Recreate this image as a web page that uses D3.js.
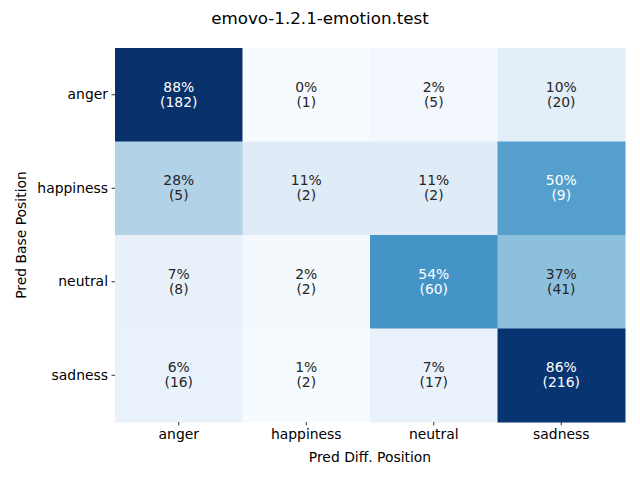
<!DOCTYPE html>
<html><head><meta charset="utf-8">
<script src="https://cdn.jsdelivr.net/npm/d3@7"></script>
<style>body{margin:0;background:#fff}svg{display:block;font-family:"DejaVu Sans",sans-serif}</style>
</head><body>
<svg id="c" width="640" height="480"></svg>
<script>
const title = "emovo-1.2.1-emotion.test";
const rowLabels = ["anger", "happiness", "neutral", "sadness"];
const colLabels = ["anger", "happiness", "neutral", "sadness"];
const counts = [
  [182, 1, 5, 20],
  [5, 2, 2, 9],
  [8, 2, 60, 41],
  [16, 2, 17, 216]
];
const xLabel = "Pred Diff. Position";
const yLabel = "Pred Base Position";
const bluesStops = ["#f7fbff","#deebf7","#c6dbef","#9ecae1","#6baed6","#4292c6","#2171b5","#08519c","#08306b"];

const L = 115, R = 625, T = 48, B = 422;
const svg = d3.select("#c");
const cells = [];
counts.forEach((row, i) => {
  const s = d3.sum(row);
  row.forEach((v, j) => cells.push({i, j, v, f: v / s}));
});
const fmin = d3.min(cells, d => d.f), fmax = d3.max(cells, d => d.f);
const t = d3.scaleLinear().domain([fmin, fmax]).range([0, 1]);
const cmap = d3.scaleLinear().domain(d3.range(9).map(k => k / 8)).range(bluesStops).interpolate(d3.interpolateRgb).clamp(true);
const color = f => cmap(t(f));

const x = d3.scaleBand().domain(d3.range(colLabels.length)).range([L, R]);
const y = d3.scaleBand().domain(d3.range(rowLabels.length)).range([T, B]);

function lum(c) {
  const r = d3.rgb(c);
  const f = v => { v /= 255; return v <= 0.03928 ? v / 12.92 : Math.pow((v + 0.055) / 1.055, 2.4); };
  return 0.2126 * f(r.r) + 0.7152 * f(r.g) + 0.0722 * f(r.b);
}

svg.append("g").selectAll("rect").data(cells).join("rect")
  .attr("x", d => x(d.j)).attr("y", d => y(d.i))
  .attr("width", x.bandwidth() + 0.5).attr("height", y.bandwidth() + 0.5)
  .attr("fill", d => color(d.f));

const ann = svg.append("g").attr("font-size", "13.9px").attr("text-anchor", "middle");
cells.forEach(d => {
  const c = color(d.f);
  const tc = lum(c) > 0.408 ? "#262626" : "#ffffff";
  const cx = x(d.j) + x.bandwidth() / 2, cy = y(d.i) + y.bandwidth() / 2;
  ann.append("text").attr("x", cx).attr("y", cy - 8).attr("dy", "0.35em").attr("fill", tc)
    .text(Math.round(d.f * 100) + "%");
  ann.append("text").attr("x", cx).attr("y", cy + 7).attr("dy", "0.35em").attr("fill", tc)
    .text("(" + d.v + ")");
});

const xa = svg.append("g").attr("transform", `translate(0,${B})`)
  .call(d3.axisBottom(x).tickFormat(k => colLabels[k]).tickSize(3.5).tickPadding(3.5));
const ya = svg.append("g").attr("transform", `translate(${L},0)`)
  .call(d3.axisLeft(y).tickFormat(k => rowLabels[k]).tickSize(3.5).tickPadding(3.5));
[xa, ya].forEach(a => {
  a.select(".domain").remove();
  a.selectAll("line").attr("stroke", "#000").attr("stroke-width", 0.8);
  a.selectAll("text").attr("font-size", "13.9px").attr("fill", "#000").attr("font-family", "DejaVu Sans");
});

svg.append("text").attr("x", (L + R) / 2).attr("y", 462).attr("text-anchor", "middle")
  .attr("font-size", "13.9px").text(xLabel);
svg.append("text").attr("transform", `translate(26,${(T + B) / 2}) rotate(-90)`).attr("text-anchor", "middle")
  .attr("font-size", "13.9px").text(yLabel);
svg.append("text").attr("x", 320).attr("y", 24).attr("text-anchor", "middle")
  .attr("font-size", "16.7px").text(title);
</script>
</body></html>
